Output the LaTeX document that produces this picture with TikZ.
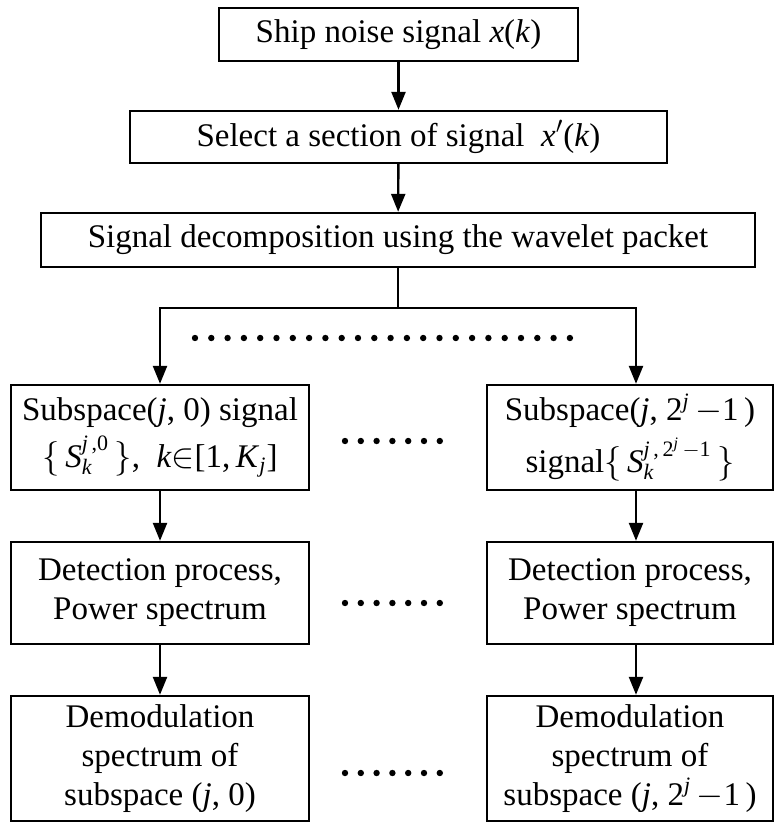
\documentclass[tikz,border=0pt]{standalone}
\usepackage{fontspec}
\setmainfont{Liberation Serif}
\usetikzlibrary{arrows.meta}

% italic variable and small script text
\newcommand{\iv}[1]{\textit{#1}}
\newcommand{\scr}[1]{\hbox{\fontsize{11}{11}\selectfont #1}}
\newcommand{\tinyscr}[1]{\hbox{\fontsize{8}{8}\selectfont #1}}

\begin{document}
\begin{tikzpicture}[x=0.5pt,y=-0.5pt,
  box/.style={draw, line width=1.2pt, inner sep=0pt, align=center,
    font=\fontsize{16.5}{19.5}\selectfont},
  link/.style={line width=1.2pt, -{Triangle[length=9pt,width=7pt]}},
  wire/.style={line width=1.2pt},
  dotmark/.style={fill=black}]
\useasboundingbox (0,0) rectangle (775,825);

% main chain
\node[box, minimum width=179.5pt, minimum height=26.5pt] (b1) at (398.5,34.5)
  {Ship noise signal \iv{x}(\iv{k})};
\node[box, minimum width=268.5pt, minimum height=26pt] (b2) at (398.5,137)
  {Select a section of signal\ \ \iv{x}$'$(\iv{k})};
\node[box, minimum width=357pt, minimum height=27pt] (b3) at (398,240)
  {Signal decomposition using the wavelet packet};

% left column
\node[box, minimum width=149pt, minimum height=52.5pt] (l1) at (160,437.5)
  {Subspace(\iv{j}, 0) signal\\[4pt]
   $\{$\,\iv{S}$^{\scr{\iv{j}\,,0}}_{\scr{\iv{k}}}$\,$\}$,\ \ \iv{k}$\in$[1,\,\iv{K}$_{\scr{\iv{j}}}$]};
\node[box, minimum width=149pt, minimum height=51pt] (l2) at (160,593)
  {Detection process,\\Power spectrum};
\node[box, minimum width=149pt, minimum height=62.5pt] (l3) at (160,758.5)
  {Demodulation\\spectrum of\\subspace (\iv{j}, 0)};

% right column
\node[box, minimum width=143pt, minimum height=52.5pt] (r1) at (630,437.5)
  {Subspace(\iv{j}, 2$^{\scr{\iv{j}}}$\,$-$1\,)\\[4pt]
   signal$\{$\,\iv{S}$^{\scr{\iv{j}\,,\,2$^{\tinyscr{\iv{j}}}$\,$-$1}}_{\scr{\iv{k}}}$\,$\}$};
\node[box, minimum width=143pt, minimum height=51pt] (r2) at (630,593)
  {Detection process,\\Power spectrum};
\node[box, minimum width=143pt, minimum height=62.5pt] (r3) at (630,758.5)
  {Demodulation\\spectrum of\\subspace (\iv{j}, 2$^{\scr{\iv{j}}}$\,$-$1\,)};

% connectors
\coordinate (split) at (398,308);
\draw[link] (b1) -- (b2);
\draw[link] (b2) -- (b3);
\draw[wire] (b3.south) -- (split);
\draw[link] (split) -| (l1.north);
\draw[link] (split) -| ([xshift=3pt]r1.north);
\draw[link] (l1) -- (l2);
\draw[link] (l2) -- (l3);
\draw[link] ([xshift=3pt]r1.south) -- ([xshift=3pt]r2.north);
\draw[link] ([xshift=3pt]r2.south) -- ([xshift=3pt]r3.north);

% ellipsis dots between the branches
\foreach \i in {0,...,23}
  \fill[dotmark] (195+\i*16.3,338) circle (1.6pt);
\foreach \yy in {441,603,773}
  \foreach \i in {0,...,6}
    \fill[dotmark] (345+\i*15.8,\yy) circle (1.6pt);
\end{tikzpicture}
\end{document}
